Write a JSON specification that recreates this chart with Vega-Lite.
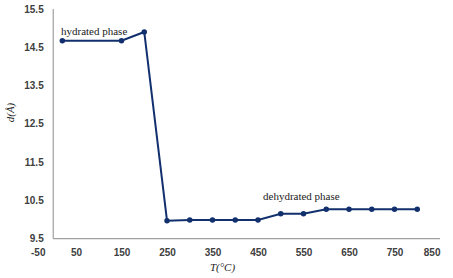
{
  "$schema": "https://vega.github.io/schema/vega-lite/v6.json",
  "width": 409.5,
  "height": 229.7,
  "autosize": {"type": "none"},
  "padding": {"left": 30.5, "top": 9, "right": 13, "bottom": 39.3},
  "background": "white",
  "config": {"view": {"stroke": null}},
  "datasets": {
    "pts": [
      {"T": 20, "d": 14.67},
      {"T": 150, "d": 14.67},
      {"T": 200, "d": 14.9},
      {"T": 250, "d": 9.97},
      {"T": 300, "d": 9.99},
      {"T": 350, "d": 9.99},
      {"T": 400, "d": 9.99},
      {"T": 450, "d": 9.99},
      {"T": 500, "d": 10.15},
      {"T": 550, "d": 10.15},
      {"T": 600, "d": 10.27},
      {"T": 650, "d": 10.27},
      {"T": 700, "d": 10.27},
      {"T": 750, "d": 10.27},
      {"T": 800, "d": 10.27}
    ],
    "labels": [
      {"T": 17, "d": 14.9, "label": "hydrated phase"},
      {"T": 461, "d": 10.58, "label": "dehydrated phase"}
    ],
    "axes": [
      {"x1": 0, "x2": 850, "y1": 9.5, "y2": 9.5},
      {"x1": 0, "x2": 0, "y1": 9.5, "y2": 15.5}
    ]
  },
  "layer": [
    {
      "data": {"name": "axes"},
      "mark": {"type": "rule", "color": "#a0a0a0", "strokeWidth": 1.2},
      "encoding": {
        "x": {"field": "x1", "type": "quantitative", "scale": {"domain": [-50, 850], "nice": false, "zero": false},
          "axis": {"values": [-50, 50, 150, 250, 350, 450, 550, 650, 750, 850], "tickCount": 20, "labelExpr": "'' + datum.value", "labelOverlap": false, "domain": false, "ticks": false, "grid": false,
            "labelFont": "Liberation Sans", "labelFontSize": 10, "labelFontWeight": "bold", "labelColor": "#404040", "labelPadding": 9,
            "title": "T(°C)", "titleFont": "Liberation Serif", "titleFontSize": 11, "titleFontWeight": "normal", "titleFontStyle": "italic", "titleColor": "#222",
            "titleX": 191.5, "titleY": 28.5, "titleBaseline": "middle", "titleAlign": "center", "titleAnchor": null}},
        "x2": {"field": "x2"},
        "y": {"field": "y1", "type": "quantitative", "scale": {"domain": [9.5, 15.5], "nice": false, "zero": false},
          "axis": {"values": [9.5, 10.5, 11.5, 12.5, 13.5, 14.5, 15.5], "tickCount": 20, "format": ".1f", "labelOverlap": false, "domain": false, "ticks": false, "grid": false, "offset": -22.7,
            "labelFont": "Liberation Sans", "labelFontSize": 10, "labelFontWeight": "bold", "labelColor": "#404040", "labelPadding": 10,
            "title": "d(Å)", "titleFont": "Liberation Serif", "titleFontSize": 11, "titleFontWeight": "normal", "titleFontStyle": "italic", "titleColor": "#222", "titlePadding": 8, "titleY": 103, "titleAnchor": null, "titleAlign": "center"}},
        "y2": {"field": "y2"}
      }
    },
    {
      "data": {"name": "pts"},
      "mark": {"type": "line", "color": "#12306e", "strokeWidth": 2, "point": {"filled": true, "size": 30, "color": "#12306e", "opacity": 1}},
      "encoding": {
        "x": {"field": "T", "type": "quantitative"},
        "y": {"field": "d", "type": "quantitative"}
      }
    },
    {
      "data": {"name": "labels"},
      "mark": {"type": "text", "font": "Liberation Serif", "fontSize": 11, "color": "#222", "baseline": "middle", "align": "left"},
      "encoding": {
        "x": {"field": "T", "type": "quantitative"},
        "y": {"field": "d", "type": "quantitative"},
        "text": {"field": "label"}
      }
    }
  ]
}
